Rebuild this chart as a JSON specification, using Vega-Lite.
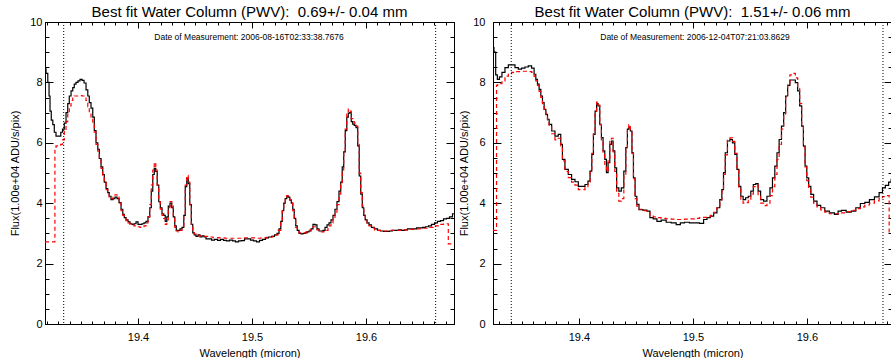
{
"$schema": "https://vega.github.io/schema/vega-lite/v6.json",
"padding": {"left": 9, "top": 4, "right": 0, "bottom": 0},
"spacing": 1,
"config": {
 "font": "Liberation Sans",
 "view": {"stroke": "black", "strokeWidth": 1},
 "axis": {"grid": false, "domainColor": "black", "tickColor": "black", "labelColor": "black", "titleColor": "black", "labelFontSize": 11, "titleFontSize": 11, "titleFontWeight": "normal", "tickWidth": 1, "domainWidth": 1, "labelFlush": false, "labelOverlap": false, "labelBound": false},
 "title": {"fontSize": 15, "fontWeight": "normal", "color": "black", "anchor": "middle", "frame": "group", "offset": -3.5}
},
"datasets": {
 "leftObs": [
{"lam":19.3184,"flux":8.45},{"lam":19.3202,"flux":8.3},{"lam":19.3215,"flux":8.0},{"lam":19.3224,"flux":7.55},{"lam":19.3232,"flux":7.05},{"lam":19.3246,"flux":6.75},{"lam":19.3259,"flux":6.6},{"lam":19.3272,"flux":6.35},{"lam":19.3289,"flux":6.22},{"lam":19.3316,"flux":6.22},{"lam":19.3329,"flux":6.35},{"lam":19.3346,"flux":6.45},{"lam":19.336,"flux":6.65},{"lam":19.3377,"flux":7.0},{"lam":19.339,"flux":7.3},{"lam":19.3404,"flux":7.55},{"lam":19.3421,"flux":7.72},{"lam":19.3434,"flux":7.83},{"lam":19.3447,"flux":7.94},{"lam":19.3465,"flux":8.0},{"lam":19.3482,"flux":8.05},{"lam":19.35,"flux":8.1},{"lam":19.3518,"flux":8.07},{"lam":19.3535,"flux":7.98},{"lam":19.3553,"flux":7.75},{"lam":19.3566,"flux":7.55},{"lam":19.3579,"flux":7.33},{"lam":19.3596,"flux":7.15},{"lam":19.361,"flux":6.85},{"lam":19.3623,"flux":6.4},{"lam":19.364,"flux":6.0},{"lam":19.3654,"flux":5.78},{"lam":19.3667,"flux":5.48},{"lam":19.3684,"flux":5.2},{"lam":19.3697,"flux":4.95},{"lam":19.3711,"flux":4.7},{"lam":19.3728,"flux":4.48},{"lam":19.3741,"flux":4.35},{"lam":19.3754,"flux":4.23},{"lam":19.3772,"flux":4.12},{"lam":19.3789,"flux":4.15},{"lam":19.3807,"flux":4.2},{"lam":19.3825,"flux":4.15},{"lam":19.3842,"flux":4.02},{"lam":19.386,"flux":3.8},{"lam":19.3873,"flux":3.63},{"lam":19.3886,"flux":3.52},{"lam":19.3904,"flux":3.45},{"lam":19.3921,"flux":3.38},{"lam":19.3939,"flux":3.32},{"lam":19.3956,"flux":3.3},{"lam":19.3974,"flux":3.32},{"lam":19.3991,"flux":3.38},{"lam":19.4009,"flux":3.3},{"lam":19.4026,"flux":3.3},{"lam":19.4044,"flux":3.32},{"lam":19.4061,"flux":3.35},{"lam":19.4079,"flux":3.4},{"lam":19.4096,"flux":3.55},{"lam":19.411,"flux":3.85},{"lam":19.4123,"flux":4.4},{"lam":19.4136,"flux":4.95},{"lam":19.4149,"flux":5.15},{"lam":19.4162,"flux":5.05},{"lam":19.4175,"flux":4.6},{"lam":19.4189,"flux":4.05},{"lam":19.4202,"flux":3.85},{"lam":19.4219,"flux":3.65},{"lam":19.4232,"flux":3.6},{"lam":19.4246,"flux":3.4},{"lam":19.4259,"flux":3.55},{"lam":19.4272,"flux":3.9},{"lam":19.4289,"flux":4.0},{"lam":19.4303,"flux":3.85},{"lam":19.4316,"flux":3.55},{"lam":19.4329,"flux":3.25},{"lam":19.4342,"flux":3.1},{"lam":19.436,"flux":3.1},{"lam":19.4377,"flux":3.15},{"lam":19.4395,"flux":3.2},{"lam":19.4408,"flux":3.6},{"lam":19.4421,"flux":4.55},{"lam":19.4434,"flux":4.82},{"lam":19.4447,"flux":4.65},{"lam":19.4461,"flux":3.95},{"lam":19.4474,"flux":3.3},{"lam":19.4487,"flux":3.02},{"lam":19.45,"flux":2.95},{"lam":19.4518,"flux":2.9},{"lam":19.4535,"flux":2.95},{"lam":19.4553,"flux":2.88},{"lam":19.457,"flux":2.92},{"lam":19.4588,"flux":2.88},{"lam":19.4605,"flux":2.82},{"lam":19.4632,"flux":2.82},{"lam":19.4658,"flux":2.78},{"lam":19.4684,"flux":2.8},{"lam":19.4711,"flux":2.77},{"lam":19.4737,"flux":2.8},{"lam":19.4763,"flux":2.77},{"lam":19.4789,"flux":2.75},{"lam":19.4816,"flux":2.78},{"lam":19.4842,"flux":2.75},{"lam":19.4868,"flux":2.72},{"lam":19.4895,"flux":2.75},{"lam":19.4921,"flux":2.76},{"lam":19.4947,"flux":2.82},{"lam":19.4974,"flux":2.82},{"lam":19.5,"flux":2.78},{"lam":19.5026,"flux":2.75},{"lam":19.5053,"flux":2.72},{"lam":19.5079,"flux":2.77},{"lam":19.5105,"flux":2.8},{"lam":19.5132,"flux":2.85},{"lam":19.5158,"flux":2.88},{"lam":19.5184,"flux":2.9},{"lam":19.5211,"flux":2.95},{"lam":19.5228,"flux":3.0},{"lam":19.5246,"flux":3.15},{"lam":19.5259,"flux":3.4},{"lam":19.5272,"flux":3.75},{"lam":19.5285,"flux":4.0},{"lam":19.5298,"flux":4.15},{"lam":19.5311,"flux":4.22},{"lam":19.5325,"flux":4.2},{"lam":19.5338,"flux":4.1},{"lam":19.5351,"flux":4.0},{"lam":19.5364,"flux":3.8},{"lam":19.5377,"flux":3.5},{"lam":19.539,"flux":3.25},{"lam":19.5404,"flux":3.1},{"lam":19.5421,"flux":3.0},{"lam":19.5439,"flux":2.98},{"lam":19.5456,"flux":3.0},{"lam":19.5474,"flux":3.02},{"lam":19.5491,"flux":3.05},{"lam":19.5509,"flux":3.08},{"lam":19.5526,"flux":3.15},{"lam":19.5544,"flux":3.3},{"lam":19.5561,"flux":3.28},{"lam":19.5579,"flux":3.15},{"lam":19.5596,"flux":3.08},{"lam":19.5614,"flux":3.08},{"lam":19.5632,"flux":3.1},{"lam":19.5649,"flux":3.2},{"lam":19.5667,"flux":3.28},{"lam":19.5684,"flux":3.35},{"lam":19.5702,"flux":3.45},{"lam":19.5719,"flux":3.6},{"lam":19.5737,"flux":3.8},{"lam":19.5754,"flux":4.05},{"lam":19.5772,"flux":4.4},{"lam":19.5785,"flux":4.7},{"lam":19.5798,"flux":5.2},{"lam":19.5811,"flux":5.7},{"lam":19.5825,"flux":6.4},{"lam":19.5838,"flux":6.85},{"lam":19.5851,"flux":6.98},{"lam":19.5864,"flux":7.0},{"lam":19.5877,"flux":6.7},{"lam":19.589,"flux":6.62},{"lam":19.5904,"flux":6.58},{"lam":19.5921,"flux":6.5},{"lam":19.5934,"flux":5.9},{"lam":19.5947,"flux":4.9},{"lam":19.5961,"flux":4.3},{"lam":19.5974,"flux":3.85},{"lam":19.5987,"flux":3.6},{"lam":19.6,"flux":3.45},{"lam":19.6018,"flux":3.35},{"lam":19.6035,"flux":3.28},{"lam":19.6061,"flux":3.2},{"lam":19.6088,"flux":3.15},{"lam":19.6114,"flux":3.1},{"lam":19.614,"flux":3.08},{"lam":19.6167,"flux":3.07},{"lam":19.6193,"flux":3.07},{"lam":19.6219,"flux":3.08},{"lam":19.6246,"flux":3.1},{"lam":19.6272,"flux":3.1},{"lam":19.6298,"flux":3.12},{"lam":19.6325,"flux":3.1},{"lam":19.6351,"flux":3.12},{"lam":19.6377,"flux":3.15},{"lam":19.6404,"flux":3.15},{"lam":19.643,"flux":3.15},{"lam":19.6456,"flux":3.18},{"lam":19.6482,"flux":3.18},{"lam":19.6509,"flux":3.2},{"lam":19.6535,"flux":3.22},{"lam":19.6561,"flux":3.25},{"lam":19.6588,"flux":3.3},{"lam":19.6614,"flux":3.35},{"lam":19.664,"flux":3.4},{"lam":19.6667,"flux":3.42},{"lam":19.6693,"flux":3.48},{"lam":19.6719,"flux":3.5},{"lam":19.6746,"flux":3.55},{"lam":19.6772,"flux":3.65}
 ],
 "leftModel": [
{"lam":19.3184,"flux":2.72},{"lam":19.327,"flux":2.72},{"lam":19.3272,"flux":5.85},{"lam":19.3289,"flux":5.9},{"lam":19.3316,"flux":5.92},{"lam":19.3329,"flux":5.95},{"lam":19.3346,"flux":6.1},{"lam":19.336,"flux":6.4},{"lam":19.3377,"flux":6.7},{"lam":19.339,"flux":7.0},{"lam":19.3404,"flux":7.22},{"lam":19.3421,"flux":7.4},{"lam":19.3434,"flux":7.5},{"lam":19.3447,"flux":7.55},{"lam":19.3465,"flux":7.55},{"lam":19.3482,"flux":7.55},{"lam":19.35,"flux":7.56},{"lam":19.3518,"flux":7.55},{"lam":19.3535,"flux":7.52},{"lam":19.3553,"flux":7.4},{"lam":19.3566,"flux":7.2},{"lam":19.3579,"flux":7.0},{"lam":19.3596,"flux":6.85},{"lam":19.361,"flux":6.65},{"lam":19.3623,"flux":6.35},{"lam":19.364,"flux":5.95},{"lam":19.3654,"flux":5.72},{"lam":19.3667,"flux":5.45},{"lam":19.3684,"flux":5.15},{"lam":19.3697,"flux":4.9},{"lam":19.3711,"flux":4.68},{"lam":19.3728,"flux":4.45},{"lam":19.3741,"flux":4.3},{"lam":19.3754,"flux":4.2},{"lam":19.3772,"flux":4.15},{"lam":19.3789,"flux":4.22},{"lam":19.3807,"flux":4.28},{"lam":19.3825,"flux":4.2},{"lam":19.3842,"flux":4.0},{"lam":19.386,"flux":3.75},{"lam":19.3873,"flux":3.6},{"lam":19.3886,"flux":3.5},{"lam":19.3904,"flux":3.42},{"lam":19.3921,"flux":3.35},{"lam":19.3939,"flux":3.3},{"lam":19.3956,"flux":3.28},{"lam":19.3974,"flux":3.25},{"lam":19.3991,"flux":3.25},{"lam":19.4009,"flux":3.22},{"lam":19.4026,"flux":3.2},{"lam":19.4044,"flux":3.22},{"lam":19.4061,"flux":3.25},{"lam":19.4079,"flux":3.35},{"lam":19.4096,"flux":3.55},{"lam":19.411,"flux":3.95},{"lam":19.4123,"flux":4.6},{"lam":19.4136,"flux":5.1},{"lam":19.4149,"flux":5.35},{"lam":19.4162,"flux":5.1},{"lam":19.4175,"flux":4.6},{"lam":19.4189,"flux":4.05},{"lam":19.4202,"flux":3.8},{"lam":19.4219,"flux":3.6},{"lam":19.4232,"flux":3.5},{"lam":19.4246,"flux":3.3},{"lam":19.4259,"flux":3.45},{"lam":19.4272,"flux":3.85},{"lam":19.4289,"flux":4.05},{"lam":19.4303,"flux":3.9},{"lam":19.4316,"flux":3.5},{"lam":19.4329,"flux":3.2},{"lam":19.4342,"flux":3.08},{"lam":19.436,"flux":3.05},{"lam":19.4377,"flux":3.1},{"lam":19.4395,"flux":3.2},{"lam":19.4408,"flux":3.65},{"lam":19.4421,"flux":4.6},{"lam":19.4434,"flux":4.92},{"lam":19.4447,"flux":4.7},{"lam":19.4461,"flux":3.95},{"lam":19.4474,"flux":3.3},{"lam":19.4487,"flux":3.05},{"lam":19.45,"flux":2.98},{"lam":19.4518,"flux":2.95},{"lam":19.4553,"flux":2.92},{"lam":19.4588,"flux":2.9},{"lam":19.4632,"flux":2.88},{"lam":19.4684,"flux":2.86},{"lam":19.4737,"flux":2.85},{"lam":19.4789,"flux":2.84},{"lam":19.4842,"flux":2.84},{"lam":19.4895,"flux":2.84},{"lam":19.4947,"flux":2.85},{"lam":19.5,"flux":2.85},{"lam":19.5053,"flux":2.84},{"lam":19.5105,"flux":2.85},{"lam":19.5158,"flux":2.88},{"lam":19.5211,"flux":2.95},{"lam":19.5246,"flux":3.1},{"lam":19.5259,"flux":3.4},{"lam":19.5272,"flux":3.75},{"lam":19.5285,"flux":4.02},{"lam":19.5298,"flux":4.18},{"lam":19.5311,"flux":4.25},{"lam":19.5325,"flux":4.22},{"lam":19.5338,"flux":4.12},{"lam":19.5351,"flux":4.0},{"lam":19.5364,"flux":3.75},{"lam":19.5377,"flux":3.45},{"lam":19.539,"flux":3.2},{"lam":19.5404,"flux":3.08},{"lam":19.5421,"flux":3.02},{"lam":19.5456,"flux":3.02},{"lam":19.5491,"flux":3.05},{"lam":19.5526,"flux":3.12},{"lam":19.5544,"flux":3.22},{"lam":19.5561,"flux":3.22},{"lam":19.5579,"flux":3.12},{"lam":19.5614,"flux":3.05},{"lam":19.5649,"flux":3.1},{"lam":19.5684,"flux":3.25},{"lam":19.5702,"flux":3.35},{"lam":19.5719,"flux":3.5},{"lam":19.5737,"flux":3.7},{"lam":19.5754,"flux":3.95},{"lam":19.5772,"flux":4.3},{"lam":19.5785,"flux":4.6},{"lam":19.5798,"flux":5.1},{"lam":19.5811,"flux":5.7},{"lam":19.5825,"flux":6.45},{"lam":19.5838,"flux":6.95},{"lam":19.5851,"flux":7.12},{"lam":19.5864,"flux":7.05},{"lam":19.5877,"flux":6.8},{"lam":19.589,"flux":6.7},{"lam":19.5904,"flux":6.65},{"lam":19.5921,"flux":6.55},{"lam":19.5934,"flux":6.0},{"lam":19.5947,"flux":5.0},{"lam":19.5961,"flux":4.35},{"lam":19.5974,"flux":3.9},{"lam":19.5987,"flux":3.6},{"lam":19.6,"flux":3.45},{"lam":19.6018,"flux":3.35},{"lam":19.6035,"flux":3.25},{"lam":19.6061,"flux":3.18},{"lam":19.6088,"flux":3.12},{"lam":19.6114,"flux":3.1},{"lam":19.614,"flux":3.08},{"lam":19.6193,"flux":3.08},{"lam":19.6246,"flux":3.1},{"lam":19.6298,"flux":3.1},{"lam":19.6351,"flux":3.12},{"lam":19.6404,"flux":3.13},{"lam":19.6456,"flux":3.15},{"lam":19.6509,"flux":3.17},{"lam":19.6561,"flux":3.2},{"lam":19.6614,"flux":3.25},{"lam":19.6667,"flux":3.3},{"lam":19.6693,"flux":3.32},{"lam":19.6719,"flux":3.32},{"lam":19.6725,"flux":2.65},{"lam":19.6772,"flux":2.65}
 ],
 "rightObs": [
{"lam":19.3246,"flux":9.15},{"lam":19.3263,"flux":9.0},{"lam":19.3276,"flux":8.25},{"lam":19.3292,"flux":8.1},{"lam":19.3313,"flux":8.18},{"lam":19.3336,"flux":8.33},{"lam":19.3366,"flux":8.49},{"lam":19.3395,"flux":8.58},{"lam":19.3424,"flux":8.58},{"lam":19.3454,"flux":8.49},{"lam":19.3482,"flux":8.44},{"lam":19.3511,"flux":8.47},{"lam":19.3541,"flux":8.51},{"lam":19.357,"flux":8.55},{"lam":19.3599,"flux":8.47},{"lam":19.3614,"flux":8.27},{"lam":19.3629,"flux":8.1},{"lam":19.3643,"flux":7.94},{"lam":19.3658,"flux":7.77},{"lam":19.3673,"flux":7.55},{"lam":19.3687,"flux":7.33},{"lam":19.3702,"flux":7.11},{"lam":19.3717,"flux":6.94},{"lam":19.3731,"flux":6.78},{"lam":19.3746,"flux":6.61},{"lam":19.3775,"flux":6.39},{"lam":19.3804,"flux":6.22},{"lam":19.3833,"flux":6.28},{"lam":19.3848,"flux":5.95},{"lam":19.3862,"flux":5.45},{"lam":19.3892,"flux":5.12},{"lam":19.3921,"flux":4.95},{"lam":19.395,"flux":4.79},{"lam":19.398,"flux":4.71},{"lam":19.4009,"flux":4.56},{"lam":19.4038,"flux":4.56},{"lam":19.4068,"flux":4.62},{"lam":19.409,"flux":4.73},{"lam":19.4105,"flux":5.06},{"lam":19.412,"flux":5.62},{"lam":19.4134,"flux":6.28},{"lam":19.4149,"flux":7.05},{"lam":19.4161,"flux":7.3},{"lam":19.4175,"flux":7.22},{"lam":19.419,"flux":6.61},{"lam":19.4204,"flux":6.17},{"lam":19.4219,"flux":5.73},{"lam":19.4234,"flux":5.45},{"lam":19.4248,"flux":5.01},{"lam":19.4263,"flux":5.34},{"lam":19.4278,"flux":5.95},{"lam":19.4292,"flux":6.06},{"lam":19.4307,"flux":5.73},{"lam":19.4322,"flux":5.17},{"lam":19.4339,"flux":4.51},{"lam":19.436,"flux":4.4},{"lam":19.4383,"flux":4.51},{"lam":19.4404,"flux":5.06},{"lam":19.4418,"flux":5.84},{"lam":19.4432,"flux":6.45},{"lam":19.4443,"flux":6.52},{"lam":19.4459,"flux":6.39},{"lam":19.4471,"flux":5.67},{"lam":19.4485,"flux":4.84},{"lam":19.45,"flux":4.23},{"lam":19.4515,"flux":3.96},{"lam":19.4538,"flux":3.79},{"lam":19.4582,"flux":3.77},{"lam":19.4611,"flux":3.74},{"lam":19.4634,"flux":3.52},{"lam":19.4669,"flux":3.48},{"lam":19.4699,"flux":3.4},{"lam":19.4743,"flux":3.44},{"lam":19.4787,"flux":3.37},{"lam":19.4831,"flux":3.35},{"lam":19.4875,"flux":3.29},{"lam":19.4904,"flux":3.35},{"lam":19.4947,"flux":3.37},{"lam":19.4991,"flux":3.35},{"lam":19.5035,"flux":3.35},{"lam":19.5079,"flux":3.33},{"lam":19.5108,"flux":3.46},{"lam":19.5138,"flux":3.52},{"lam":19.5167,"flux":3.57},{"lam":19.5196,"flux":3.68},{"lam":19.5225,"flux":3.85},{"lam":19.5246,"flux":4.12},{"lam":19.5261,"flux":4.45},{"lam":19.5275,"flux":5.01},{"lam":19.5292,"flux":5.67},{"lam":19.5313,"flux":6.06},{"lam":19.5336,"flux":6.11},{"lam":19.5357,"flux":6.0},{"lam":19.5377,"flux":5.62},{"lam":19.5395,"flux":5.12},{"lam":19.541,"flux":4.56},{"lam":19.543,"flux":4.23},{"lam":19.545,"flux":4.12},{"lam":19.5474,"flux":4.18},{"lam":19.5497,"flux":4.23},{"lam":19.5518,"flux":4.4},{"lam":19.5541,"flux":4.62},{"lam":19.5561,"flux":4.65},{"lam":19.5582,"flux":4.4},{"lam":19.5605,"flux":4.12},{"lam":19.5634,"flux":4.07},{"lam":19.5664,"flux":4.23},{"lam":19.5687,"flux":4.51},{"lam":19.5708,"flux":4.84},{"lam":19.5728,"flux":5.23},{"lam":19.5746,"flux":5.67},{"lam":19.5766,"flux":6.11},{"lam":19.5787,"flux":6.55},{"lam":19.5804,"flux":7.0},{"lam":19.5822,"flux":7.55},{"lam":19.5839,"flux":7.9},{"lam":19.5862,"flux":8.08},{"lam":19.5886,"flux":8.08},{"lam":19.591,"flux":7.99},{"lam":19.5927,"flux":7.72},{"lam":19.5945,"flux":7.22},{"lam":19.5962,"flux":6.55},{"lam":19.5976,"flux":5.89},{"lam":19.5991,"flux":5.23},{"lam":19.6006,"flux":4.84},{"lam":19.6024,"flux":4.56},{"lam":19.6044,"flux":4.29},{"lam":19.6073,"flux":4.07},{"lam":19.6103,"flux":3.93},{"lam":19.6138,"flux":3.85},{"lam":19.6175,"flux":3.74},{"lam":19.6219,"flux":3.68},{"lam":19.6263,"flux":3.63},{"lam":19.6283,"flux":3.74},{"lam":19.6322,"flux":3.76},{"lam":19.6366,"flux":3.7},{"lam":19.641,"flux":3.74},{"lam":19.6447,"flux":3.85},{"lam":19.6489,"flux":3.99},{"lam":19.6526,"flux":4.03},{"lam":19.657,"flux":4.12},{"lam":19.6614,"flux":4.21},{"lam":19.6652,"flux":4.35},{"lam":19.6673,"flux":4.51},{"lam":19.6702,"flux":4.59},{"lam":19.6731,"flux":4.7},{"lam":19.6746,"flux":4.79}
 ],
 "rightModel": [
{"lam":19.3246,"flux":3.1},{"lam":19.3276,"flux":3.1},{"lam":19.3278,"flux":7.9},{"lam":19.3292,"flux":7.92},{"lam":19.3313,"flux":7.96},{"lam":19.3336,"flux":8.05},{"lam":19.3366,"flux":8.21},{"lam":19.3395,"flux":8.29},{"lam":19.3424,"flux":8.33},{"lam":19.3454,"flux":8.36},{"lam":19.3482,"flux":8.36},{"lam":19.3511,"flux":8.37},{"lam":19.3541,"flux":8.37},{"lam":19.357,"flux":8.36},{"lam":19.3599,"flux":8.33},{"lam":19.3614,"flux":8.2},{"lam":19.3629,"flux":8.05},{"lam":19.3643,"flux":7.9},{"lam":19.3658,"flux":7.7},{"lam":19.3673,"flux":7.5},{"lam":19.3687,"flux":7.3},{"lam":19.3702,"flux":7.08},{"lam":19.3717,"flux":6.9},{"lam":19.3731,"flux":6.72},{"lam":19.3746,"flux":6.55},{"lam":19.3775,"flux":6.3},{"lam":19.3804,"flux":6.1},{"lam":19.3833,"flux":6.15},{"lam":19.3848,"flux":5.9},{"lam":19.3862,"flux":5.4},{"lam":19.3892,"flux":5.05},{"lam":19.3921,"flux":4.85},{"lam":19.395,"flux":4.7},{"lam":19.398,"flux":4.6},{"lam":19.4009,"flux":4.45},{"lam":19.4038,"flux":4.45},{"lam":19.4068,"flux":4.52},{"lam":19.409,"flux":4.7},{"lam":19.4105,"flux":5.05},{"lam":19.412,"flux":5.65},{"lam":19.4134,"flux":6.3},{"lam":19.4149,"flux":7.05},{"lam":19.4161,"flux":7.35},{"lam":19.4175,"flux":7.25},{"lam":19.419,"flux":6.6},{"lam":19.4204,"flux":6.1},{"lam":19.4219,"flux":5.6},{"lam":19.4234,"flux":5.25},{"lam":19.4248,"flux":5.05},{"lam":19.4263,"flux":5.5},{"lam":19.4278,"flux":6.05},{"lam":19.4292,"flux":6.15},{"lam":19.4307,"flux":5.7},{"lam":19.4322,"flux":5.05},{"lam":19.4339,"flux":4.4},{"lam":19.436,"flux":4.07},{"lam":19.4383,"flux":4.15},{"lam":19.4404,"flux":4.95},{"lam":19.4418,"flux":5.85},{"lam":19.4432,"flux":6.5},{"lam":19.4443,"flux":6.6},{"lam":19.4459,"flux":6.4},{"lam":19.4471,"flux":5.65},{"lam":19.4485,"flux":4.8},{"lam":19.45,"flux":4.15},{"lam":19.4515,"flux":3.9},{"lam":19.4538,"flux":3.8},{"lam":19.4582,"flux":3.75},{"lam":19.4611,"flux":3.7},{"lam":19.4634,"flux":3.6},{"lam":19.4669,"flux":3.55},{"lam":19.4699,"flux":3.52},{"lam":19.4743,"flux":3.5},{"lam":19.4787,"flux":3.48},{"lam":19.4831,"flux":3.47},{"lam":19.4875,"flux":3.46},{"lam":19.4904,"flux":3.46},{"lam":19.4947,"flux":3.47},{"lam":19.4991,"flux":3.48},{"lam":19.5035,"flux":3.5},{"lam":19.5079,"flux":3.52},{"lam":19.5108,"flux":3.53},{"lam":19.5138,"flux":3.55},{"lam":19.5167,"flux":3.6},{"lam":19.5196,"flux":3.7},{"lam":19.5225,"flux":3.85},{"lam":19.5246,"flux":4.1},{"lam":19.5261,"flux":4.4},{"lam":19.5275,"flux":4.95},{"lam":19.5292,"flux":5.6},{"lam":19.5313,"flux":6.1},{"lam":19.5336,"flux":6.16},{"lam":19.5357,"flux":6.05},{"lam":19.5377,"flux":5.65},{"lam":19.5395,"flux":5.1},{"lam":19.541,"flux":4.5},{"lam":19.543,"flux":4.1},{"lam":19.545,"flux":4.0},{"lam":19.5474,"flux":4.02},{"lam":19.5497,"flux":4.1},{"lam":19.5518,"flux":4.3},{"lam":19.5541,"flux":4.55},{"lam":19.5561,"flux":4.6},{"lam":19.5582,"flux":4.25},{"lam":19.5605,"flux":4.0},{"lam":19.5634,"flux":3.92},{"lam":19.5664,"flux":4.0},{"lam":19.5687,"flux":4.25},{"lam":19.5708,"flux":4.55},{"lam":19.5728,"flux":4.95},{"lam":19.5746,"flux":5.45},{"lam":19.5766,"flux":5.95},{"lam":19.5787,"flux":6.45},{"lam":19.5804,"flux":6.95},{"lam":19.5822,"flux":7.5},{"lam":19.5839,"flux":7.95},{"lam":19.5862,"flux":8.25},{"lam":19.5886,"flux":8.3},{"lam":19.591,"flux":8.15},{"lam":19.5927,"flux":7.8},{"lam":19.5945,"flux":7.3},{"lam":19.5962,"flux":6.6},{"lam":19.5976,"flux":5.9},{"lam":19.5991,"flux":5.2},{"lam":19.6006,"flux":4.75},{"lam":19.6024,"flux":4.45},{"lam":19.6044,"flux":4.2},{"lam":19.6073,"flux":4.0},{"lam":19.6103,"flux":3.88},{"lam":19.6138,"flux":3.78},{"lam":19.6175,"flux":3.7},{"lam":19.6219,"flux":3.65},{"lam":19.6263,"flux":3.65},{"lam":19.6322,"flux":3.68},{"lam":19.6366,"flux":3.72},{"lam":19.641,"flux":3.76},{"lam":19.6447,"flux":3.82},{"lam":19.6489,"flux":3.88},{"lam":19.6526,"flux":3.94},{"lam":19.657,"flux":4.0},{"lam":19.6614,"flux":4.08},{"lam":19.6652,"flux":4.15},{"lam":19.6673,"flux":4.22},{"lam":19.6702,"flux":4.25},{"lam":19.672,"flux":4.25},{"lam":19.6722,"flux":3.0},{"lam":19.6746,"flux":3.0}
 ],
 "leftLines": [{"lam": 19.3348}, {"lam": 19.6611}],
 "rightLines": [{"lam": 19.3406}, {"lam": 19.6667}],
 "leftDate": [{"label": "Date of Measurement: 2006-08-16T02:33:38.7676", "lam": 19.4974, "flux": 9.5}],
 "rightDate": [{"label": "Date of Measurement: 2006-12-04T07:21:03.8629", "lam": 19.5018, "flux": 9.5}]
},
"hconcat": [
 {
  "width": 409, "height": 302,
  "title": {"text": "Best fit Water Column (PWV):\u00a0 0.69+/- 0.04 mm"},
  "resolve": {"axis": {"x": "independent", "y": "independent"}},
  "layer": [
   {"data": {"name": "leftObs"},
    "mark": {"type": "line", "interpolate": "step", "color": "black", "strokeWidth": 1.2},
    "encoding": {
     "x": {"field": "lam", "type": "quantitative", "scale": {"domain": [19.3184, 19.6772], "nice": false, "zero": false},
      "axis": {"orient": "bottom", "values": [19.32,19.33,19.34,19.35,19.36,19.37,19.38,19.39,19.4,19.41,19.42,19.43,19.44,19.45,19.46,19.47,19.48,19.49,19.5,19.51,19.52,19.53,19.54,19.55,19.56,19.57,19.58,19.59,19.6,19.61,19.62,19.63,19.64,19.65,19.66,19.67],
       "labelExpr": "abs(datum.value*10-round(datum.value*10))<0.001 ? format(datum.value,'.1f') : ''",
       "tickSize": {"condition": {"test": "abs(datum.value*10-round(datum.value*10))<0.001", "value": -6}, "value": -3},
       "labelPadding": 13, "title": "Wavelength (micron)", "titlePadding": 2}},
     "y": {"field": "flux", "type": "quantitative", "scale": {"domain": [0, 10], "nice": false, "zero": false},
      "axis": {"orient": "left", "values": [0,0.5,1,1.5,2,2.5,3,3.5,4,4.5,5,5.5,6,6.5,7,7.5,8,8.5,9,9.5,10],
       "labelExpr": "datum.value % 2 == 0 ? format(datum.value,'d') : ''",
       "tickSize": {"condition": {"test": "datum.value % 2 == 0", "value": -8}, "value": -4},
       "labelPadding": 11, "title": "Flux(1.00e+04 ADU/s/pix)", "titlePadding": 9}}
    }},
   {"data": {"name": "leftModel"},
    "mark": {"type": "line", "interpolate": "step", "color": "#ff0000", "strokeWidth": 1.2, "strokeDash": [4, 3]},
    "encoding": {
     "x": {"field": "lam", "type": "quantitative", "axis": null},
     "y": {"field": "flux", "type": "quantitative", "axis": null}
    }},
   {"data": {"name": "leftLines"},
    "mark": {"type": "rule", "color": "black", "strokeWidth": 1, "strokeDash": [1, 2]},
    "encoding": {"x": {"field": "lam", "type": "quantitative", "axis": null}}},
   {"data": {"name": "leftDate"},
    "mark": {"type": "text", "fontSize": 8.5, "color": "black", "baseline": "middle", "align": "center"},
    "encoding": {
     "x": {"field": "lam", "type": "quantitative",
      "axis": {"orient": "top", "values": [19.32,19.33,19.34,19.35,19.36,19.37,19.38,19.39,19.4,19.41,19.42,19.43,19.44,19.45,19.46,19.47,19.48,19.49,19.5,19.51,19.52,19.53,19.54,19.55,19.56,19.57,19.58,19.59,19.6,19.61,19.62,19.63,19.64,19.65,19.66,19.67],
       "labels": false, "title": null,
       "tickSize": {"condition": {"test": "abs(datum.value*10-round(datum.value*10))<0.001", "value": -6}, "value": -3}}},
     "y": {"field": "flux", "type": "quantitative",
      "axis": {"orient": "right", "values": [0,0.5,1,1.5,2,2.5,3,3.5,4,4.5,5,5.5,6,6.5,7,7.5,8,8.5,9,9.5,10],
       "labels": false, "title": null,
       "tickSize": {"condition": {"test": "datum.value % 2 == 0", "value": -8}, "value": -4}}},
     "text": {"field": "label"}
    }}
  ]
 },
 {
  "width": 399, "height": 302,
  "title": {"text": "Best fit Water Column (PWV):\u00a0 1.51+/- 0.06 mm"},
  "resolve": {"axis": {"x": "independent", "y": "independent"}},
  "layer": [
   {"data": {"name": "rightObs"},
    "mark": {"type": "line", "interpolate": "step", "color": "black", "strokeWidth": 1.2},
    "encoding": {
     "x": {"field": "lam", "type": "quantitative", "scale": {"domain": [19.3246, 19.6746], "nice": false, "zero": false},
      "axis": {"orient": "bottom", "values": [19.33,19.34,19.35,19.36,19.37,19.38,19.39,19.4,19.41,19.42,19.43,19.44,19.45,19.46,19.47,19.48,19.49,19.5,19.51,19.52,19.53,19.54,19.55,19.56,19.57,19.58,19.59,19.6,19.61,19.62,19.63,19.64,19.65,19.66,19.67],
       "labelExpr": "abs(datum.value*10-round(datum.value*10))<0.001 ? format(datum.value,'.1f') : ''",
       "tickSize": {"condition": {"test": "abs(datum.value*10-round(datum.value*10))<0.001", "value": -6}, "value": -3},
       "labelPadding": 13, "title": "Wavelength (micron)", "titlePadding": 2}},
     "y": {"field": "flux", "type": "quantitative", "scale": {"domain": [0, 10], "nice": false, "zero": false},
      "axis": {"orient": "left", "values": [0,0.5,1,1.5,2,2.5,3,3.5,4,4.5,5,5.5,6,6.5,7,7.5,8,8.5,9,9.5,10],
       "labelExpr": "datum.value % 2 == 0 ? format(datum.value,'d') : ''",
       "tickSize": {"condition": {"test": "datum.value % 2 == 0", "value": -8}, "value": -4},
       "labelPadding": 16, "title": "Flux(1.00e+04 ADU/s/pix)", "titlePadding": 3}}
    }},
   {"data": {"name": "rightModel"},
    "mark": {"type": "line", "interpolate": "step", "color": "#ff0000", "strokeWidth": 1.2, "strokeDash": [4, 3]},
    "encoding": {
     "x": {"field": "lam", "type": "quantitative", "axis": null},
     "y": {"field": "flux", "type": "quantitative", "axis": null}
    }},
   {"data": {"name": "rightLines"},
    "mark": {"type": "rule", "color": "black", "strokeWidth": 1, "strokeDash": [1, 2]},
    "encoding": {"x": {"field": "lam", "type": "quantitative", "axis": null}}},
   {"data": {"name": "rightDate"},
    "mark": {"type": "text", "fontSize": 8.5, "color": "black", "baseline": "middle", "align": "center"},
    "encoding": {
     "x": {"field": "lam", "type": "quantitative",
      "axis": {"orient": "top", "values": [19.33,19.34,19.35,19.36,19.37,19.38,19.39,19.4,19.41,19.42,19.43,19.44,19.45,19.46,19.47,19.48,19.49,19.5,19.51,19.52,19.53,19.54,19.55,19.56,19.57,19.58,19.59,19.6,19.61,19.62,19.63,19.64,19.65,19.66,19.67],
       "labels": false, "title": null,
       "tickSize": {"condition": {"test": "abs(datum.value*10-round(datum.value*10))<0.001", "value": -6}, "value": -3}}},
     "y": {"field": "flux", "type": "quantitative",
      "axis": {"orient": "right", "values": [0,0.5,1,1.5,2,2.5,3,3.5,4,4.5,5,5.5,6,6.5,7,7.5,8,8.5,9,9.5,10],
       "labels": false, "title": null,
       "tickSize": {"condition": {"test": "datum.value % 2 == 0", "value": -8}, "value": -4}}},
     "text": {"field": "label"}
    }}
  ]
 }
]
}
